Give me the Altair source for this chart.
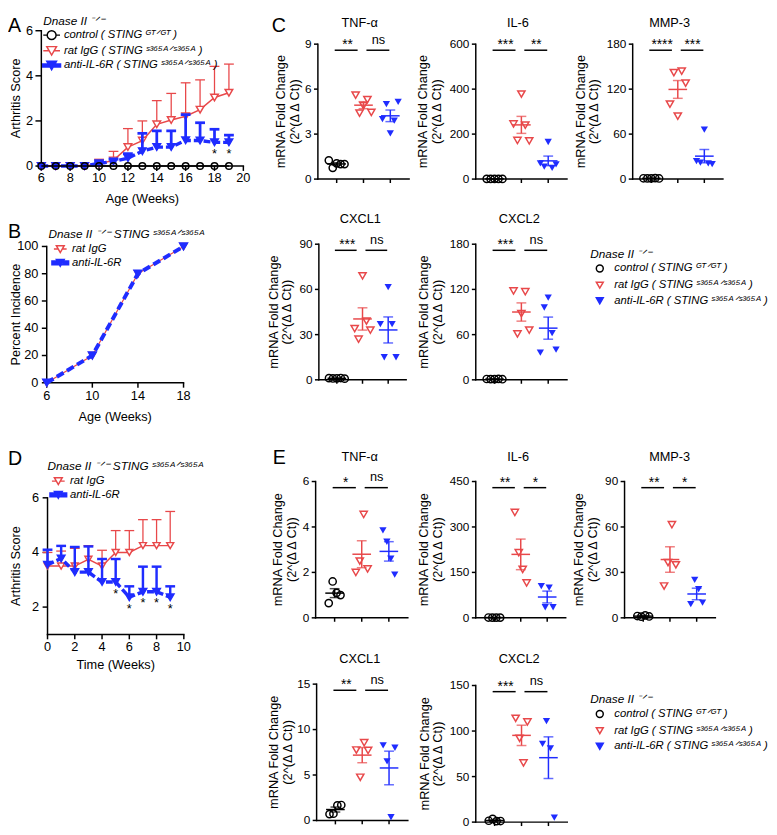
import altair as alt
import pandas as pd

W, H = 769, 827
FONT = "Liberation Sans"
RED = "#e8484a"
BLUE = "#1f2cff"
BLACK = "#000000"


def V(p):
    return round(p - 8, 2)


# ---------------- data: panel A (arthritis score, mean + SEM) ----------------
weeks_A = [6, 7, 8, 9, 10, 11, 12, 13, 14, 15, 16, 17, 18, 19]
ctrl_A_mean = [0, 0, 0, 0, 0, 0, 0, 0, 0, 0, 0, 0, 0, 0]
rat_A_mean = [0, 0, 0, 0, 0.1, 0.25, 0.84, 1.13, 1.85, 2.04, 2.21, 2.5, 3.04, 3.25]
rat_A_sem = [0, 0, 0, 0, 0.2, 0.4, 0.82, 0.87, 1.05, 1.18, 1.48, 1.32, 1.38, 1.27]
anti_A_mean = [0, 0, 0, 0, 0.12, 0.2, 0.35, 0.66, 0.84, 0.84, 1.14, 1.13, 1.05, 1.05]
anti_A_sem = [0, 0, 0, 0, 0.08, 0.1, 0.2, 0.79, 0.72, 0.72, 1.14, 0.79, 0.58, 0.32]
star_weeks_A = [18, 19]
ticks_A_x = [6, 8, 10, 12, 14, 16, 18, 20]
ticks_A_y = [0, 2, 4, 6]

# ---------------- data: panel B (percent incidence) ----------------
weeks_B = [6, 10, 14, 18]
rat_B = [0, 20, 80, 100]
anti_B = [0, 20, 80, 100]
ticks_B_x = [6, 10, 14, 18]
ticks_B_y = [0, 20, 40, 60, 80, 100]

# ---------------- data: panel D (arthritis score, mean + SEM) ----------------
weeks_D = [0, 1, 2, 3, 4, 5, 6, 7, 8, 9]
rat_D_mean = [3.5, 3.5, 3.5, 3.75, 3.5, 4.0, 4.0, 4.25, 4.25, 4.25]
rat_D_sem = [0.5, 0.55, 0.65, 0.5, 0.58, 0.8, 0.8, 0.95, 0.95, 1.25]
anti_D_mean = [3.55, 3.78, 3.28, 3.28, 2.92, 2.92, 2.36, 2.56, 2.56, 2.36]
anti_D_sem = [0.55, 0.46, 0.92, 0.94, 0.84, 0.84, 0.4, 0.92, 0.92, 0.4]
star_weeks_D = [5, 6, 7, 8, 9]
ticks_D_x = [0, 2, 4, 6, 8, 10]
ticks_D_y = [2, 4, 6]

# ---------------- data: panels C and E (mRNA fold change, per animal) ----------------
GROUPS = ["control", "rat IgG", "anti-IL-6R"]
c_tnf = {"control": [1.25, 0.75, 1.05, 1.0, 1.0], "rat IgG": [5.6, 4.4, 4.9, 5.3, 4.45],
         "anti-IL-6R": [4.0, 5.0, 3.05, 3.9, 5.15]}
c_il6 = {"control": [1.2, 0.8, 1.0, 1.1, 0.9], "rat IgG": [245, 172, 378, 240, 170],
         "anti-IL-6R": [70, 55, 165, 50, 65]}
c_mmp3 = {"control": [1.1, 0.9, 1.0, 1.2, 0.8], "rat IgG": [100, 142, 84, 144, 128],
          "anti-IL-6R": [24, 22, 66, 21, 20]}
c_cxcl1 = {"control": [1.1, 0.9, 1.0, 1.2, 0.8], "rat IgG": [34, 27, 69, 39, 33],
           "anti-IL-6R": [37, 15, 61.5, 37, 15]}
c_cxcl2 = {"control": [1.1, 0.9, 1.0, 1.2, 0.8], "rat IgG": [118, 61, 88, 117, 66],
           "anti-IL-6R": [36, 96, 109, 62, 40]}
e_tnf = {"control": [0.65, 1.6, 1.1, 1.0], "rat IgG": [2.0, 2.5, 4.55, 2.15],
         "anti-IL-6R": [3.85, 3.35, 2.6, 1.9]}
e_il6 = {"control": [1.1, 0.9, 1.0, 1.0], "rat IgG": [348, 215, 160, 115],
         "anti-IL-6R": [105, 35, 100, 35]}
e_mmp3 = {"control": [1.2, 0.8, 1.6, 0.9], "rat IgG": [21, 36.5, 61.5, 35],
          "anti-IL-6R": [9, 25, 19, 10]}
e_cxcl1 = {"control": [0.7, 0.75, 1.65, 1.7], "rat IgG": [7.75, 4.75, 8.55, 7.7],
           "anti-IL-6R": [8.25, 6.5, 0.35, 8.0]}
e_cxcl2 = {"control": [1.5, 3.5, 1.0, 1.2], "rat IgG": [114, 92, 65, 110],
           "anti-IL-6R": [86, 111, 81, 5]}

c_sig = {"TNF-α": ["**", "ns"], "IL-6": ["***", "**"], "MMP-3": ["****", "***"],
         "CXCL1": ["***", "ns"], "CXCL2": ["***", "ns"]}
e_sig = {"TNF-α": ["*", "ns"], "IL-6": ["**", "*"], "MMP-3": ["**", "*"],
         "CXCL1": ["**", "ns"], "CXCL2": ["***", "ns"]}
c_ticks = {"TNF-α": [0, 3, 6, 9], "IL-6": [0, 200, 400, 600], "MMP-3": [0, 60, 120, 180],
           "CXCL1": [0, 30, 60, 90], "CXCL2": [0, 60, 120, 180]}
e_ticks = {"TNF-α": [0, 2, 4, 6], "IL-6": [0, 150, 300, 450], "MMP-3": [0, 30, 60, 90],
           "CXCL1": [0, 5, 10, 15], "CXCL2": [0, 50, 100, 150]}

SUP_GT = "ᴳᵀᐟᴳᵀ"
SUP_S = "ˢ³⁶⁵ᴬᐟˢ³⁶⁵ᴬ"
KO = "Dnase II ⁻ᐟ⁻"
legend3 = [f"control ( STING {SUP_GT} )", f"rat IgG ( STING {SUP_S} )",
           f"anti-IL-6R ( STING {SUP_S} )"]
legend2 = ["rat IgG", "anti-IL-6R"]
title_BD = f"{KO} STING {SUP_S}"
YTITLE = ["mRNA Fold Change", "(2^(Δ Δ Ct))"]


# ---------------- helpers ----------------
def axis_layers(sx, sy, xdom, ydom, xticks, yticks, show_xlabels, lab_size, xtick_len,
                ytick_len, xlab_off, ylab_off, titles):
    """Axis lines, ticks, tick labels and titles drawn through the panel's own scales."""
    out = []
    X = lambda f: alt.X(f, scale=sx, axis=None)
    Y = lambda f: alt.Y(f, scale=sy, axis=None)
    dom = pd.DataFrame({"x0": [xdom[0]], "x1": [xdom[1]], "y0": [ydom[0]], "y1": [ydom[1]]})
    out.append(alt.Chart(dom).mark_rule(color="black", strokeWidth=1.5, strokeCap="square")
               .encode(x=X("x0:Q"), x2="x1:Q", y=Y("y0:Q")))
    out.append(alt.Chart(dom).mark_rule(color="black", strokeWidth=1.5, strokeCap="square")
               .encode(x=X("x0:Q"), y=Y("y0:Q"), y2="y1:Q"))
    xt = pd.DataFrame({"v": xticks, "y0": [ydom[0]] * len(xticks)})
    out.append(alt.Chart(xt).mark_rule(color="black", strokeWidth=1.5, y2Offset=xtick_len)
               .encode(x=X("v:Q"), y=Y("y0:Q"), y2="y0:Q"))
    yt = pd.DataFrame({"v": yticks, "x0": [xdom[0]] * len(yticks)})
    out.append(alt.Chart(yt).mark_rule(color="black", strokeWidth=1.5, x2Offset=-ytick_len)
               .encode(x=X("x0:Q"), x2="x0:Q", y=Y("v:Q")))
    if show_xlabels:
        out.append(alt.Chart(xt).mark_text(font=FONT, fontSize=lab_size, align="center",
                                           baseline="top", yOffset=xlab_off, color="black")
                   .encode(x=X("v:Q"), y=Y("y0:Q"), text=alt.Text("v:Q", format="d")))
    out.append(alt.Chart(yt).mark_text(font=FONT, fontSize=lab_size, align="right",
                                       baseline="middle", xOffset=-ylab_off, color="black")
               .encode(x=X("x0:Q"), y=Y("v:Q"), text=alt.Text("v:Q", format="d")))
    for (txt, xv, yv, xo, yo, ang) in titles:
        dft = pd.DataFrame({"t": [txt], "x": [xv], "y": [yv]})
        out.append(alt.Chart(dft).mark_text(font=FONT, fontSize=13, align="center",
                                            baseline="middle", angle=ang, xOffset=xo,
                                            yOffset=yo, color="black")
                   .encode(x=X("x:Q"), y=Y("y:Q"), text="t:N"))
    return out


def ts_layers(df, sx, sy, color, line_w, dash, shape, size, fill, err_w, cap, with_err=True):
    out = []
    if with_err:
        e = (alt.Chart(df).transform_filter("datum.sem > 0")
             .transform_calculate(upper="datum.mean + datum.sem"))
        out.append(e.mark_rule(color=color, strokeWidth=err_w).encode(
            x=alt.X("week:Q", scale=sx, axis=None),
            y=alt.Y("mean:Q", scale=sy, axis=None), y2="upper:Q"))
        out.append(e.mark_tick(orient="horizontal", color=color, size=cap,
                               thickness=err_w, opacity=1).encode(
            x=alt.X("week:Q", scale=sx, axis=None),
            y=alt.Y("upper:Q", scale=sy, axis=None)))
    lk = dict(color=color, strokeWidth=line_w)
    if dash:
        lk["strokeDash"] = dash
    out.append(alt.Chart(df).mark_line(**lk).encode(
        x=alt.X("week:Q", scale=sx, axis=None),
        y=alt.Y("mean:Q", scale=sy, axis=None)))
    out.append(alt.Chart(df).mark_point(shape=shape, size=size, strokeWidth=1.5, opacity=1,
                                        stroke=color, filled=True, fill=fill).encode(
        x=alt.X("week:Q", scale=sx, axis=None),
        y=alt.Y("mean:Q", scale=sy, axis=None)))
    return out


def star_layer(weeks, means, star_weeks, sx, sy):
    df = pd.DataFrame({"week": star_weeks,
                       "mean": [means[weeks.index(w)] for w in star_weeks],
                       "label": ["*"] * len(star_weeks)})
    return alt.Chart(df).mark_text(font=FONT, fontSize=13, baseline="alphabetic",
                                   dy=16, color="black").encode(
        x=alt.X("week:Q", scale=sx, axis=None),
        y=alt.Y("mean:Q", scale=sy, axis=None), text="label:N")


STYLE = {"control": dict(shape="circle", color=BLACK, filled=False),
         "rat IgG": dict(shape="triangle-down", color=RED, filled=False),
         "anti-IL-6R": dict(shape="triangle-down", color=BLUE, filled=True)}


def dot_panel(title, data, sig, yticks, x0, x1, ybot, ytop, title_x, title_y, ytitle_mid):
    rows = []
    for gi, g in enumerate(GROUPS):
        for ri, val in enumerate(data[g]):
            rows.append({"group": g, "pos": gi + 1, "rep": ri, "value": val})
    df = pd.DataFrame(rows)
    n = max(len(v) for v in data.values())
    ymax = yticks[-1]
    step = 4.0 / ((x1 - x0) / 3.4)
    sx = alt.Scale(domain=[0.3, 3.7], range=[V(x0), V(x1)], nice=False, zero=False)
    sy = alt.Scale(domain=[0, ymax], range=[V(ybot), V(ytop)], nice=False, zero=False)
    titles = [(YTITLE[0], 0.3, ymax / 2, round(ytitle_mid - 7 - x0, 1), 0, 270),
              (YTITLE[1], 0.3, ymax / 2, round(ytitle_mid + 7 - x0, 1), 0, 270),
              (title, 2, ymax, round(title_x - (x0 + x1) / 2, 1), round(title_y - ytop, 1), 0)]
    layers = axis_layers(sx, sy, [0.3, 3.7], [0, ymax], [1, 2, 3], yticks, False, 12, 4, 4,
                         0, 6.5, titles)
    for g in GROUPS:
        st = STYLE[g]
        dfg = df[df.group == g]
        layers.append(alt.Chart(dfg)
                      .transform_calculate(xp=f"datum.pos + (datum.rep - {(n - 1) / 2}) * {step:.4f}")
                      .mark_point(shape=st["shape"], size=55, strokeWidth=1.5,
                                  filled=st["filled"], color=st["color"], opacity=1).encode(
            x=alt.X("xp:Q", scale=sx, axis=None),
            y=alt.Y("value:Q", scale=sy, axis=None)))
        layers.append(alt.Chart(dfg).mark_tick(orient="horizontal", size=19, thickness=1.5,
                                               color=st["color"], opacity=1).encode(
            x=alt.X("pos:Q", scale=sx, axis=None),
            y=alt.Y("mean(value):Q", scale=sy, axis=None)))
        layers.append(alt.Chart(dfg).mark_errorbar(extent="stderr", orient="vertical",
                                                   ticks=True, size=10, thickness=1.5,
                                                   color=st["color"]).encode(
            x=alt.X("pos:Q", scale=sx, axis=None),
            y=alt.Y("value:Q", scale=sy, axis=None)))
    lvl = ymax * 0.955
    for k, (a, b) in enumerate([(1, 2), (2, 3)]):
        dfc = pd.DataFrame({"a": [a], "b": [b], "lvl": [lvl], "label": [sig[k]]})
        offs = (-2, -6) if k == 0 else (3, -1)
        layers.append(alt.Chart(dfc).mark_rule(color="black", strokeWidth=1.5,
                                               xOffset=offs[0], x2Offset=offs[1]).encode(
            x=alt.X("a:Q", scale=sx, axis=None), x2="b:Q",
            y=alt.Y("lvl:Q", scale=sy, axis=None)))
        is_ns = sig[k] == "ns"
        layers.append(alt.Chart(dfc).transform_calculate(mid="(datum.a + datum.b) / 2")
                      .mark_text(font=FONT, fontSize=13 if is_ns else 14, baseline="alphabetic",
                                 dy=-6.5 if is_ns else -1, dx=-2.5 if k == 0 else 1.5,
                                 color="black").encode(
            x=alt.X("mid:Q", scale=sx, axis=None), y=alt.Y("lvl:Q", scale=sy, axis=None),
            text="label:N"))
    return alt.layer(*layers)


def legend_layer(labels, strokes, fills, shapes, size, title, lx, ly, row_pad, title_pad,
                 sym_off, lab_off):
    df = pd.DataFrame({"label": labels})
    lg = alt.Legend(orient="none", legendX=lx, legendY=ly, title=title, titleFont=FONT,
                    titleFontSize=12, titleFontStyle="italic", titleFontWeight="normal",
                    titleColor="black", titlePadding=title_pad, titleLimit=400,
                    labelFont=FONT, labelFontSize=11.5, labelFontStyle="italic",
                    labelFontWeight="normal", labelColor="black", labelLimit=400,
                    labelOffset=lab_off, symbolSize=size, symbolStrokeWidth=1.5,
                    symbolOffset=sym_off, rowPadding=row_pad, padding=0, symbolOpacity=1)
    return alt.Chart(df).mark_point(size=size, opacity=0).encode(
        x=alt.value(400), y=alt.value(400),
        stroke=alt.Stroke("label:N", scale=alt.Scale(domain=labels, range=strokes), legend=lg),
        fill=alt.Fill("label:N", scale=alt.Scale(domain=labels, range=fills), legend=lg),
        shape=alt.Shape("label:N", scale=alt.Scale(domain=labels, range=shapes), legend=lg))


def p_circle(rc, L):
    return (f"M{-L},0H{-rc}M{rc},0H{L}"
            f"M{-rc},0A{rc},{rc},0,1,1,{rc},0A{rc},{rc},0,1,1,{-rc},0Z")


def p_tri_open(t, L):
    h = round(0.866 * t, 3)
    return f"M{-L},0H{-t / 2}M{t / 2},0H{L}M{-t},{-h}L{t},{-h}L0,{h}Z"


def p_tri_bar(t, L, w):
    h = round(0.866 * t, 3)
    return (f"M{-L},{-w}H{-t / 2}V{w}H{-L}Z"
            f"M{t / 2},{-w}H{L}V{w}H{t / 2}Z"
            f"M{-t},{-h}L{t},{-h}L0,{h}Z")


layers = []

# ---------------- Panel A ----------------
sxA = alt.Scale(domain=[6, 20], range=[V(42), V(248)], nice=False, zero=False)
syA = alt.Scale(domain=[0, 6], range=[V(161), V(23)], nice=False, zero=False)
dfA_c = pd.DataFrame({"week": weeks_A, "mean": ctrl_A_mean})
dfA_r = pd.DataFrame({"week": weeks_A, "mean": rat_A_mean, "sem": rat_A_sem})
dfA_a = pd.DataFrame({"week": weeks_A, "mean": anti_A_mean, "sem": anti_A_sem})
panelA = (axis_layers(sxA, syA, [6, 20], [0, 6], ticks_A_x, ticks_A_y, True, 13, 5, 6, 6.5, 8.5,
                      [("Age (Weeks)", 13, 0, 0, 34, 0), ("Arthritis Score", 6, 3, -26, 0, 270)])
          + ts_layers(dfA_r, sxA, syA, RED, 1.5, None, "triangle-down", 60, "white", 1.3, 10)
          + ts_layers(dfA_a, sxA, syA, BLUE, 3.5, [7, 3], "triangle-down", 60, BLUE, 2.8, 10)
          + ts_layers(dfA_c, sxA, syA, BLACK, 1.5, None, "circle", 45, "transparent", 1, 1,
                      with_err=False)
          + [star_layer(weeks_A, anti_A_mean, star_weeks_A, sxA, syA)])
layers.append(alt.layer(*panelA))

# ---------------- Panel B ----------------
sxB = alt.Scale(domain=[6, 18], range=[V(47.5), V(187)], nice=False, zero=False)
syB = alt.Scale(domain=[0, 100], range=[V(382), V(243)], nice=False, zero=False)
dfB_r = pd.DataFrame({"week": weeks_B, "mean": rat_B})
dfB_a = pd.DataFrame({"week": weeks_B, "mean": anti_B})
panelB = (axis_layers(sxB, syB, [6, 18], [0, 100], ticks_B_x, ticks_B_y, True, 13, 5, 5, 7.5, 8.5,
                      [("Age (Weeks)", 12, 0, 0, 35, 0), ("Percent Incidence", 6, 50, -31.5, 0, 270)])
          + ts_layers(dfB_r, sxB, syB, RED, 1.2, None, "triangle-down", 50, "white", 1, 1,
                      with_err=False)
          + ts_layers(dfB_a, sxB, syB, BLUE, 4, [8, 4], "triangle-down", 65, BLUE, 1, 1,
                      with_err=False))
layers.append(alt.layer(*panelB))

# ---------------- Panel D ----------------
sxD = alt.Scale(domain=[0, 10], range=[V(48.3), V(187.3)], nice=False, zero=False)
syD = alt.Scale(domain=[1, 6], range=[V(638.6), V(499.3)], nice=False, zero=False)
dfD_r = pd.DataFrame({"week": weeks_D, "mean": rat_D_mean, "sem": rat_D_sem})
dfD_a = pd.DataFrame({"week": weeks_D, "mean": anti_D_mean, "sem": anti_D_sem})
panelD = (axis_layers(sxD, syD, [0, 10], [1, 6], ticks_D_x, ticks_D_y, True, 13, 5, 5, 6.5, 8.5,
                      [("Time (Weeks)", 5, 1, 0, 31.5, 0), ("Arthritis Score", 0, 3.5, -31.6, 0, 270)])
          + ts_layers(dfD_r, sxD, syD, RED, 1.5, None, "triangle-down", 50, "white", 1.3, 10)
          + ts_layers(dfD_a, sxD, syD, BLUE, 3.5, [7, 3], "triangle-down", 60, BLUE, 2.5, 10)
          + [star_layer(weeks_D, anti_D_mean, star_weeks_D, sxD, syD)])
layers.append(alt.layer(*panelD))

# ---------------- Panels C and E ----------------
# (title, data, x0, x1, ybot, ytop, title_x, title_y, ytitle_mid)  -- image pixel geometry
geom_C = [("TNF-α", c_tnf, 324, 417, 174.3, 36.7, 366.7, 15.3, 293.5),
          ("IL-6", c_il6, 485, 578, 174.3, 36.7, 528, 15.3, 438.5),
          ("MMP-3", c_mmp3, 645, 737, 174.3, 36.7, 682.7, 15.3, 599),
          ("CXCL1", c_cxcl1, 325, 414, 379, 240.7, 367.3, 215, 286),
          ("CXCL2", c_cxcl2, 485, 578, 379, 240.7, 529.3, 215, 439.7)]
geom_E = [("TNF-α", e_tnf, 321.7, 415.7, 621.7, 482.7, 366.7, 457.3, 290.8),
          ("IL-6", e_il6, 485, 576.7, 621.7, 482.7, 528.3, 457.3, 439.2),
          ("MMP-3", e_mmp3, 636.7, 729.3, 621.7, 482.7, 682.7, 457.3, 597.5),
          ("CXCL1", e_cxcl1, 322.7, 415.7, 828.3, 689.3, 366.7, 663.3, 286.3),
          ("CXCL2", e_cxcl2, 485, 578.3, 830, 690.7, 529.3, 663.3, 440)]
for (t, d, x0, x1, yb, yt, tx, ty, ym) in geom_C:
    layers.append(dot_panel(t, d, c_sig[t], c_ticks[t], x0, x1, yb, yt, tx, ty, ym))
for (t, d, x0, x1, yb, yt, tx, ty, ym) in geom_E:
    layers.append(dot_panel(t, d, e_sig[t], e_ticks[t], x0, x1, yb, yt, tx, ty, ym))

# ---------------- Legends ----------------
shapesA = [p_circle(0.82, 1.55), p_tri_open(0.9, 1.55), p_tri_bar(0.9, 1.65, 0.29)]
layers.append(legend_layer(legend3, [BLACK, RED, BLUE], ["transparent", "transparent", BLUE],
                           shapesA, 121, KO, V(44), 0, 0, 1, 2, 6))
shapesBD = [p_tri_open(0.8, 1.3), p_tri_bar(0.8, 1.7, 0.4)]
layers.append(legend_layer(legend2, [RED, BLUE], ["transparent", BLUE], shapesBD, 100,
                           title_BD, V(49.3), V(225.7), 0, 2, 6, 6))
layers.append(legend_layer(legend2, [RED, BLUE], ["transparent", BLUE], shapesBD, 100,
                           title_BD, V(48.3), V(462.3), 0, 2, 5, 6))
shapesCE = ["circle", "triangle-down", "triangle-down"]
layers.append(legend_layer(legend3, [BLACK, RED, BLUE], ["transparent", "transparent", BLUE],
                           shapesCE, 50, KO, V(601.7), V(245.7), 3, 2, 4, 9))
layers.append(legend_layer(legend3, [BLACK, RED, BLUE], ["transparent", "transparent", BLUE],
                           shapesCE, 50, KO, V(601.7), V(700), 3, 2, 4, 9))

# ---------------- Panel letters ----------------
letters = [("A", 0, 0), ("B", 0, 210), ("C", 269, 0), ("D", 0, 442), ("E", 270, 441)]
for (lt, lx, ly) in letters:
    layers.append(alt.Chart(pd.DataFrame({"t": [lt]})).mark_text(
        font=FONT, fontSize=20, align="left", baseline="top", color="black").encode(
        text="t:N", x=alt.value(lx), y=alt.value(ly)))

canvas = (alt.layer(*layers)
          .resolve_scale(x="independent", y="independent",
                         stroke="independent", fill="independent", shape="independent")
          .resolve_legend(stroke="independent", fill="independent", shape="independent")
          .properties(width=W, height=H))

chart = (alt.vconcat(canvas, spacing=0)
         .properties(padding=0)
         .configure(font=FONT)
         .configure_view(stroke=None))

chart.save("out.html", embed_options={"renderer": "svg", "actions": False})
